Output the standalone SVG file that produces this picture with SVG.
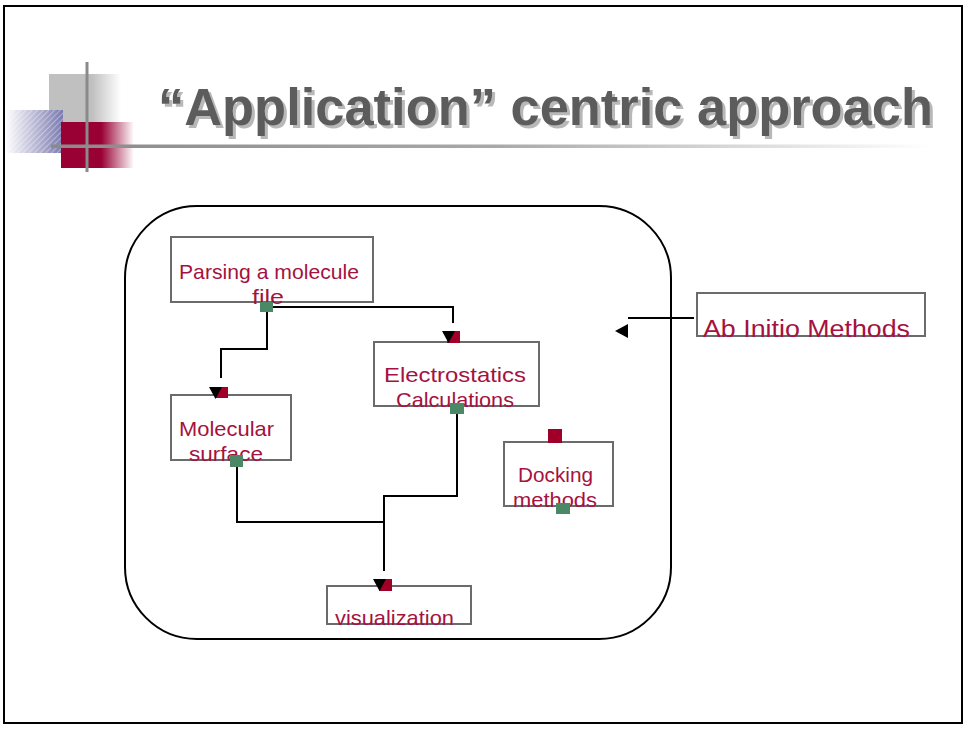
<svg xmlns="http://www.w3.org/2000/svg" width="965" height="730" viewBox="0 0 965 730">
<style>
.box{fill:none;stroke:#6b6b6b;stroke-width:2}
.lbl{font-family:"Liberation Sans",Arial,sans-serif;font-size:21px;fill:#a5123f;text-anchor:start}
.wire{fill:none;stroke:#000;stroke-width:2}
.out{fill:#4a8866}
.in{fill:#a00028}
.tri{fill:#000}
.title{font-family:"Liberation Sans",Arial,sans-serif;font-weight:bold;font-size:51px;fill:#5c5c5c}
</style>
<defs>
<linearGradient id="gGray" x1="0" x2="1" y1="0" y2="0">
<stop offset="0" stop-color="#c0c0c0"/><stop offset="0.6" stop-color="#c0c0c0"/><stop offset="1" stop-color="#ffffff"/>
</linearGradient>
<linearGradient id="gRed" x1="0" x2="1" y1="0" y2="0">
<stop offset="0" stop-color="#990033"/><stop offset="0.55" stop-color="#990033"/><stop offset="1" stop-color="#ffffff"/>
</linearGradient>
<linearGradient id="gBlue" x1="0" x2="1" y1="0" y2="0">
<stop offset="0" stop-color="#ffffff"/><stop offset="1" stop-color="#7a7ab0"/>
</linearGradient>
<linearGradient id="gLine" x1="0" x2="1" y1="0" y2="0">
<stop offset="0" stop-color="#8a8a8a"/><stop offset="0.5" stop-color="#a8a8a8"/><stop offset="1" stop-color="#ffffff"/>
</linearGradient>
<pattern id="hatch" width="4" height="4" patternUnits="userSpaceOnUse" patternTransform="rotate(45)">
<rect width="4" height="4" fill="none"/><line x1="0" y1="0" x2="0" y2="4" stroke="#ffffff" stroke-width="1.2" stroke-opacity="0.6"/>
</pattern>
<filter id="shadow" x="-5%" y="-20%" width="110%" height="150%">
<feOffset in="SourceAlpha" dx="3" dy="3" result="o"/>
<feFlood flood-color="#b8b8b8"/>
<feComposite in2="o" operator="in" result="s"/>
<feMerge><feMergeNode in="s"/><feMergeNode in="SourceGraphic"/></feMerge>
</filter>
</defs>
<rect x="4" y="6" width="958" height="717" fill="#fff" stroke="#000" stroke-width="2"/>
<g id="logo">
<rect x="49" y="74" width="72" height="50" fill="url(#gGray)"/>
<rect x="5" y="110" width="58" height="43" fill="url(#gBlue)"/>
<rect x="5" y="110" width="58" height="43" fill="url(#hatch)"/>
<rect x="61" y="122" width="73" height="46" fill="url(#gRed)"/>
<line x1="87" y1="62" x2="87" y2="172" stroke="#8a8a8a" stroke-width="3"/>
<rect x="51" y="144.5" width="880" height="3.5" fill="url(#gLine)"/>
</g>
<g id="title">
<text class="title" x="158" y="125" filter="url(#shadow)" textLength="775" lengthAdjust="spacingAndGlyphs">“Application” centric approach</text>
</g>
<rect id="container" x="125" y="206" width="546" height="433" rx="72" ry="72" fill="none" stroke="#000" stroke-width="2"/>
<g id="connectors">
<polyline class="wire" points="267,307 453,307 453,323"/>
<polyline class="wire" points="267,312 267,349 221,349 221,378"/>
<polyline class="wire" points="237,467 237,522 384,522"/>
<polyline class="wire" points="457,414 457,496 384,496 384,571"/>
<line class="wire" x1="694" y1="318" x2="628" y2="318"/>
<polygon class="tri" points="628,324 628,338 615,331"/>
</g>
<g id="parsing">
<rect class="box" x="171" y="237" width="202" height="65"/>
<text class="lbl" x="179" y="279" textLength="180" lengthAdjust="spacingAndGlyphs">Parsing a molecule</text>
<text class="lbl" x="252" y="304" textLength="32" lengthAdjust="spacingAndGlyphs">file</text>
<rect class="out" x="260" y="302" width="13" height="10"/>
</g>
<g id="electrostatics">
<rect class="box" x="374" y="342" width="165" height="64"/>
<text class="lbl" x="384" y="382" textLength="142" lengthAdjust="spacingAndGlyphs">Electrostatics</text>
<text class="lbl" x="396" y="407" textLength="118" lengthAdjust="spacingAndGlyphs">Calculations</text>
<rect class="in" x="447" y="331" width="13" height="12"/>
<polygon class="tri" points="442,331 455,331 448.5,343"/>
<rect class="out" x="450" y="403" width="14" height="11"/>
</g>
<g id="molecular">
<rect class="box" x="171" y="395" width="120" height="65"/>
<text class="lbl" x="179" y="436" textLength="95" lengthAdjust="spacingAndGlyphs">Molecular</text>
<text class="lbl" x="189" y="461" textLength="74" lengthAdjust="spacingAndGlyphs">surface</text>
<rect class="in" x="215" y="387" width="13" height="11"/>
<polygon class="tri" points="209,387 222,387 215.5,399"/>
<rect class="out" x="230" y="455" width="13" height="12"/>
</g>
<g id="docking">
<rect class="box" x="504" y="442" width="109" height="64"/>
<text class="lbl" x="518" y="482" textLength="75" lengthAdjust="spacingAndGlyphs">Docking</text>
<text class="lbl" x="513" y="507" textLength="84" lengthAdjust="spacingAndGlyphs">methods</text>
<rect class="in" x="548" y="429" width="14" height="14"/>
<rect class="out" x="556" y="503" width="14" height="11"/>
</g>
<g id="visualization">
<rect class="box" x="327" y="586" width="144" height="38"/>
<text class="lbl" x="335" y="625" textLength="119" lengthAdjust="spacingAndGlyphs">visualization</text>
<rect class="in" x="379" y="579" width="13" height="12"/>
<polygon class="tri" points="373,579 386,579 379.5,591"/>
</g>
<g id="abinitio">
<rect class="box" x="697" y="293" width="228" height="43"/>
<text class="lbl" x="703" y="337" style="font-size:23px" textLength="207" lengthAdjust="spacingAndGlyphs">Ab Initio Methods</text>
</g>
</svg>
